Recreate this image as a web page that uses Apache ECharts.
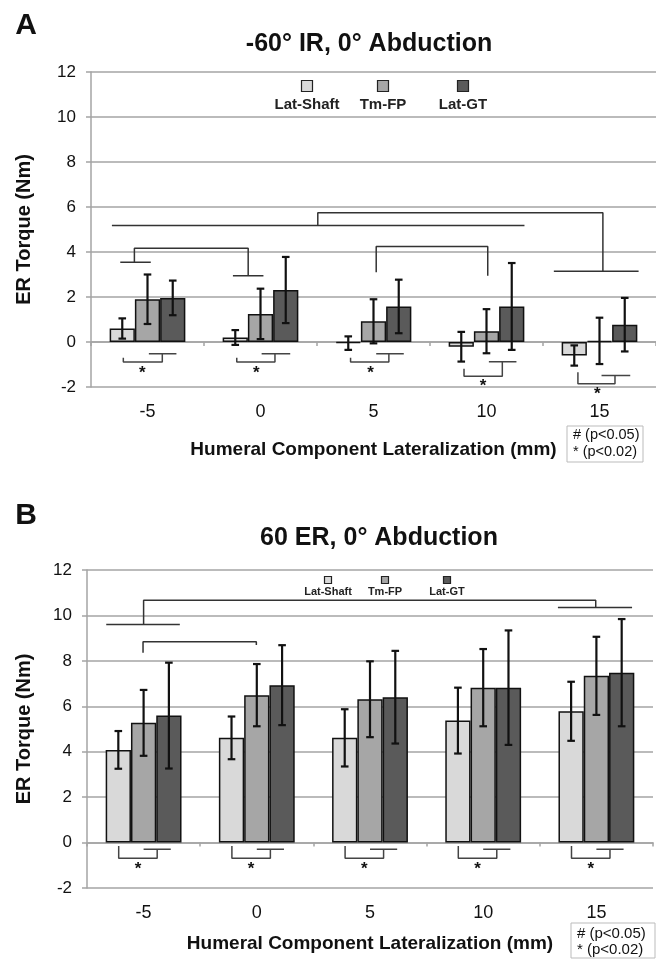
<!DOCTYPE html>
<html><head><meta charset="utf-8">
<script src="https://cdn.jsdelivr.net/npm/echarts@6/dist/echarts.min.js"></script>
<style>html,body{margin:0;padding:0;background:#fff}#c{width:656px;height:960px}</style>
</head><body><div id="c"></div>
<script>
// ---------- data ----------
const categories = ['-5', '0', '5', '10', '15'];
const seriesNames = ['Lat-Shaft', 'Tm-FP', 'Lat-GT'];
const yTickMin = -2, yTickMax = 12, yTickStep = 2;

// Panel A: -60° IR, 0° Abduction
const latShaftA = [0.6, 0.2, -0.05, -0.21, -0.6];
const tmFpA     = [1.9, 1.25, 0.92, 0.48, 0.05];
const latGtA    = [1.96, 2.31, 1.58, 1.58, 0.77];
const latShaftErrA = [0.45, 0.33, 0.30, 0.66, 0.45];
const tmFpErrA     = [1.10, 1.12, 0.98, 0.98, 1.03];
const latGtErrA    = [0.77, 1.47, 1.19, 1.93, 1.19];

// Panel B: 60 ER, 0° Abduction
const latShaftB = [4.08, 4.61, 4.61, 5.37, 5.78];
const tmFpB     = [5.27, 6.49, 6.31, 6.82, 7.34];
const latGtB    = [5.59, 6.93, 6.40, 6.82, 7.48];
const latShaftErrB = [0.83, 0.94, 1.26, 1.45, 1.30];
const tmFpErrB     = [1.45, 1.37, 1.67, 1.70, 1.72];
const latGtErrB    = [2.33, 1.76, 2.04, 2.52, 2.36];

// significance brackets: polylines in (category index, torque) units
const bracketsA = [
  [[-0.315, 5.18], [3.336, 5.18]],
  [[1.507, 5.18], [1.507, 5.74], [4.03, 5.74], [4.03, 3.15]],
  [[3.596, 3.15], [4.346, 3.15]],
  [[-0.241, 3.54], [0.029, 3.54]],
  [[-0.116, 3.54], [-0.116, 4.17], [0.891, 4.17], [0.891, 2.95]],
  [[0.756, 2.95], [1.026, 2.95]],
  [[2.024, 3.10], [2.024, 4.24], [3.011, 4.24], [3.011, 2.95]]
];
const lowBracketsA = [
  [[0.012, -0.52], [0.256, -0.52]],
  [[-0.214, -0.70], [-0.214, -0.89], [0.131, -0.89], [0.131, -0.52]],
  [[1.010, -0.52], [1.263, -0.52]],
  [[0.790, -0.70], [0.790, -0.89], [1.128, -0.89], [1.128, -0.52]],
  [[2.024, -0.52], [2.268, -0.52]],
  [[1.797, -0.70], [1.797, -0.89], [2.136, -0.89], [2.136, -0.52]],
  [[3.021, -0.88], [3.265, -0.88]],
  [[2.801, -1.19], [2.801, -1.52], [3.140, -1.52], [3.140, -0.88]],
  [[4.018, -1.49], [4.272, -1.49]],
  [[3.809, -1.34], [3.809, -1.86], [4.137, -1.86], [4.137, -1.49]]
];
const starsA = [[-0.045, -1.22], [0.963, -1.22], [1.974, -1.22], [2.97, -1.79], [3.98, -2.16]];

const bracketsB = [
  [[0.0, 9.60], [0.0, 10.67], [3.994, 10.67], [3.994, 10.35]],
  [[-0.33, 9.60], [0.32, 9.60]],
  [[3.66, 10.35], [4.315, 10.35]],
  [[-0.005, 8.36], [-0.005, 8.84], [0.996, 8.84], [0.996, 8.70]]
];
const lowBracketsB = [];
const starsB = [];
[0, 1, 2, 3, 4].forEach(function (g) {
  lowBracketsB.push([[g, -0.29], [g + 0.24, -0.29]]);
  lowBracketsB.push([[g - 0.22, -0.15], [g - 0.22, -0.69], [g + 0.12, -0.69], [g + 0.12, -0.29]]);
  starsB.push([g - 0.05, -0.99]);
});

// ---------- styles ----------
const FONT = '"Liberation Sans", Arial, Helvetica, sans-serif';
const barColors = ['#d9d9d9', '#a6a6a6', '#5a5a5a'];
const gridColor = '#a4a4a4';

const panels = [
  { vals: [latShaftA, tmFpA, latGtA], errs: [latShaftErrA, tmFpErrA, latGtErrA],
    br: bracketsA, low: lowBracketsA, stars: starsA, labelMargin: 16, nameGap: 53, yNameGap: 57 },
  { vals: [latShaftB, tmFpB, latGtB], errs: [latShaftErrB, tmFpErrB, latGtErrB],
    br: bracketsB, low: lowBracketsB, stars: starsB, labelMargin: 16, nameGap: 46, yNameGap: 53 }
];

const grids = [
  { left: 91, right: 0, top: 72, height: 315 },
  { left: 87, right: 3, top: 570, height: 318 }
];

const xAxes = [], yAxes = [], series = [];
panels.forEach(function (p, g) {
  xAxes.push({
    gridIndex: g, type: 'category', data: categories, position: 'bottom',
    axisLine: { show: false, onZero: false }, axisTick: { show: false },
    axisLabel: { fontSize: 18, color: '#111', margin: p.labelMargin, fontFamily: FONT },
    name: 'Humeral Component Lateralization (mm)', nameLocation: 'middle', nameGap: p.nameGap,
    nameTextStyle: { fontSize: 19, fontWeight: 'bold', color: '#111', fontFamily: FONT }
  });
  xAxes.push({
    gridIndex: g, type: 'category', data: categories, position: 'bottom',
    axisLine: { show: true, onZero: true, lineStyle: { color: gridColor, width: 1.5 } },
    axisTick: { show: true, length: 4, interval: 0, lineStyle: { color: gridColor, width: 1.5 } },
    axisLabel: { show: false }, splitLine: { show: false }
  });
  xAxes.push({
    gridIndex: g, type: 'value', min: -0.5, max: 4.5, show: false,
    axisLine: { onZero: false }, splitLine: { show: false }
  });
  yAxes.push({
    gridIndex: g, type: 'value', min: yTickMin, max: yTickMax, interval: yTickStep,
    axisLine: { show: true, onZero: false, lineStyle: { color: gridColor, width: 1.5 } },
    axisTick: { show: true, length: 5, lineStyle: { color: gridColor, width: 1.5 } },
    axisLabel: { fontSize: 17, color: '#111', margin: 15, fontFamily: FONT },
    splitLine: { show: true, lineStyle: { color: gridColor, width: 1.5 } },
    name: 'ER Torque (Nm)', nameLocation: 'middle', nameGap: p.yNameGap,
    nameTextStyle: { fontSize: 20, fontWeight: 'bold', color: '#111', fontFamily: FONT }
  });

  const xCat = g * 3, xVal = g * 3 + 2;
  seriesNames.forEach(function (nm, k) {
    series.push({
      type: 'bar', name: nm, xAxisIndex: xCat, yAxisIndex: g, data: p.vals[k],
      barGap: '0%', barCategoryGap: '33%', silent: true, animation: false,
      itemStyle: { color: barColors[k], borderColor: '#111', borderWidth: 1.5 }
    });
  });
  seriesNames.forEach(function (nm, k) {
    series.push({
      type: 'custom', xAxisIndex: xCat, yAxisIndex: g, silent: true, animation: false, z: 5,
      encode: { x: 0, y: 1 },
      data: categories.map(function (c, i) { return [i, p.vals[k][i], p.errs[k][i]]; }),
      renderItem: function (params, api) {
        const i = api.value(0), m = api.value(1), e = api.value(2);
        const c = api.coord([i, m]);
        const band = api.size([1, 0])[0];
        const bw = band * 0.67 / 3;
        const x = c[0] + (k - 1) * bw;
        const top = api.coord([i, m + e])[1], bot = api.coord([i, m - e])[1];
        const cap = 3.8;
        const st = { stroke: '#111', lineWidth: 2.2 };
        return { type: 'group', children: [
          { type: 'line', shape: { x1: x, y1: top, x2: x, y2: bot }, style: st },
          { type: 'line', shape: { x1: x - cap, y1: top, x2: x + cap, y2: top }, style: st },
          { type: 'line', shape: { x1: x - cap, y1: bot, x2: x + cap, y2: bot }, style: st }
        ] };
      }
    });
  });
  p.br.forEach(function (line) {
    series.push({ type: 'line', xAxisIndex: xVal, yAxisIndex: g, data: line, symbol: 'none',
      silent: true, animation: false, z: 6, lineStyle: { color: '#333', width: 1.5 } });
  });
  p.low.forEach(function (line) {
    series.push({ type: 'line', xAxisIndex: xVal, yAxisIndex: g, data: line, symbol: 'none',
      silent: true, animation: false, z: 6, lineStyle: { color: '#444', width: 1.5 } });
  });
  series.push({
    type: 'custom', xAxisIndex: xVal, yAxisIndex: g, silent: true, animation: false, z: 7,
    encode: { x: 0, y: 1 }, data: p.stars,
    renderItem: function (params, api) {
      const c = api.coord([api.value(0), api.value(1)]);
      return { type: 'text', x: c[0], y: c[1] + 4,
        style: { text: '*', fontSize: 17, fontWeight: 'bold', fill: '#111', align: 'center',
          verticalAlign: 'middle', fontFamily: FONT } };
    }
  });
});

function legendGraphics(y0, yText, xs, size, fs) {
  const out = [];
  seriesNames.forEach(function (nm, k) {
    out.push({ type: 'rect', shape: { x: xs[k] - size / 2, y: y0 - size / 2, width: size, height: size },
      style: { fill: barColors[k], stroke: '#222', lineWidth: 1.2 } });
    out.push({ type: 'text', x: xs[k], y: yText,
      style: { text: nm, fontSize: fs, fontWeight: 'bold', fill: '#222', align: 'center',
        verticalAlign: 'middle', fontFamily: FONT } });
  });
  return out;
}
function pBox(x, y, w, h, fs, l1, l2) {
  return [
    { type: 'rect', shape: { x: x, y: y, width: w, height: h }, style: { fill: '#fff', stroke: '#bbb', lineWidth: 1 } },
    { type: 'text', x: x + 6, y: l1, style: { text: '# (p<0.05)', fontSize: fs, fill: '#111', verticalAlign: 'middle', fontFamily: FONT } },
    { type: 'text', x: x + 6, y: l2, style: { text: '* (p<0.02)', fontSize: fs, fill: '#111', verticalAlign: 'middle', fontFamily: FONT } }
  ];
}
function txt(x, y, s, fs) {
  return { type: 'text', x: x, y: y, style: { text: s, fontSize: fs, fontWeight: 'bold', fill: '#111',
    align: 'center', verticalAlign: 'middle', fontFamily: FONT } };
}

const graphics = [].concat(
  [txt(26, 26, 'A', 30), txt(369, 44, '-60° IR, 0° Abduction', 25),
   txt(26, 516, 'B', 30), txt(379, 538, '60 ER, 0° Abduction', 25)],
  legendGraphics(86, 105, [307, 383, 463], 11, 15),
  legendGraphics(580, 592, [328, 385, 447], 7, 11),
  pBox(567, 426, 76, 36, 14.5, 435, 452),
  pBox(571, 923, 84, 35, 15, 934, 950)
);

const chart = echarts.init(document.getElementById('c'), null, { renderer: 'canvas' });
chart.setOption({
  animation: false,
  backgroundColor: '#fff',
  textStyle: { fontFamily: FONT },
  grid: grids,
  xAxis: xAxes,
  yAxis: yAxes,
  series: series,
  graphic: { elements: graphics }
});
</script>
</body></html>
